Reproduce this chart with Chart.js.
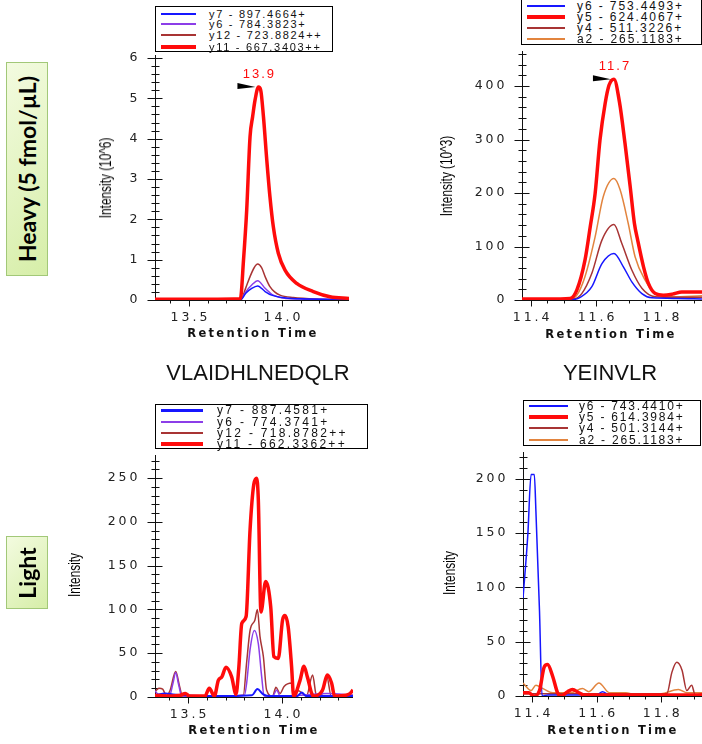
<!DOCTYPE html>
<html>
<head>
<meta charset="utf-8">
<script src="https://cdn.jsdelivr.net/npm/chart.js@4.4.0/dist/chart.umd.min.js"></script>
<style>
  body { margin: 0; background: #fff; }
  #wrap { position: relative; width: 702px; height: 744px; overflow: hidden; font-family: "Liberation Sans", Arial, sans-serif; color: #111; }
  #wrap canvas { position: absolute; left: 0; top: 0; }
  .tag { position: absolute; left: 6px; width: 42px; box-sizing: border-box; border: 1px solid #a2c878;
         background: linear-gradient(135deg, #f3fbe0 0%, #d6eea8 100%); }
  .tag span { position: absolute; left: 50%; top: 50%; transform: translate(-50%, -50%) rotate(-90deg);
              white-space: nowrap; font-family: Lato, "Liberation Sans", sans-serif; font-weight: bold; font-size: 23px; color: #000; }
  .peptide { position: absolute; transform: translate(-50%, -50%); font-size: 22px; white-space: nowrap; }
  .ytitle { position: absolute; transform: translate(-50%, -50%) rotate(-90deg) scaleX(0.74); font-size: 16px; white-space: nowrap; color: #000; }
  .xtitle { position: absolute; transform: translate(-50%, -50%); font-family: "DejaVu Sans", sans-serif; font-weight: bold;
            font-size: 11.5px; letter-spacing: 2.3px; white-space: nowrap; }
  .legend { position: absolute; border: 1px solid #000; background: #fff; box-sizing: border-box; }
  .legend .ln { position: absolute; }
  .legend .tx { position: absolute; white-space: nowrap; transform: translateY(-50%); line-height: 1; }
</style>
</head>
<body>
<div id="wrap">
  <canvas id="c0" width="702" height="744"></canvas>
  <canvas id="c1" width="702" height="744"></canvas>
  <canvas id="c2" width="702" height="744"></canvas>
  <canvas id="c3" width="702" height="744"></canvas>
</div>
<script>
/* VLAIDHLNEDQLR - heavy (10^6) */
const hvLabels = ["y7 - 897.4664+", "y6 - 784.3823+", "y12 - 723.8824++", "y11 - 667.3403++"];
const hvY7T  = [13.317, 13.60, 13.778, 13.805, 13.837, 13.869, 13.909, 13.944, 13.998, 14.10, 14.36];
const hvY7I  = [0, 0, 0.01, 0.17, 0.29, 0.35, 0.21, 0.12, 0.06, 0.03, 0.01];
const hvY6T  = [13.317, 13.60, 13.778, 13.805, 13.837, 13.869, 13.909, 13.930, 13.953, 14.02, 14.20, 14.36];
const hvY6I  = [0, 0, 0.01, 0.2, 0.37, 0.48, 0.29, 0.2, 0.12, 0.04, 0.02, 0.01];
const hvY12T = [13.317, 13.60, 13.778, 13.805, 13.828, 13.850, 13.869, 13.890, 13.909, 13.935, 13.960, 13.989, 14.06, 14.20, 14.36];
const hvY12I = [0, 0, 0.01, 0.3, 0.58, 0.8, 0.89, 0.8, 0.58, 0.33, 0.2, 0.12, 0.06, 0.02, 0.01];
const hvY11T = [13.317, 13.60, 13.776, 13.793, 13.810, 13.828, 13.842, 13.855, 13.873, 13.885, 13.900, 13.918, 13.935, 13.953, 13.980, 14.016, 14.079, 14.168, 14.258, 14.360];
const hvY11I = [0.02, 0.02, 0.03, 1.0, 2.23, 4.05, 4.55, 4.96, 5.28, 5.21, 4.55, 3.47, 2.56, 1.82, 1.16, 0.74, 0.41, 0.21, 0.08, 0.04];

/* YEINVLR - heavy (10^3) */
const hyLabels = ["y6 - 753.4493+", "y5 - 624.4067+", "y4 - 511.3226+", "a2 - 265.1183+"];
const hyY6T = [11.372, 11.45, 11.53, 11.551, 11.587, 11.618, 11.655, 11.684, 11.710, 11.741, 11.772, 11.85, 11.926];
const hyY6I = [1, 1, 1, 5, 25, 68, 87, 62, 34, 12, 4, 3, 2];
const hyY5T = [11.372, 11.45, 11.52, 11.541, 11.566, 11.582, 11.597, 11.612, 11.628, 11.640, 11.655, 11.672, 11.689, 11.705, 11.718, 11.728, 11.746, 11.761, 11.782, 11.807, 11.835, 11.864, 11.926];
const hyY5I = [2, 2, 3, 19, 75, 137, 199, 299, 368, 402, 413, 370, 293, 212, 143, 112, 62, 31, 12, 9, 11, 15, 15];
const hyY4T = [11.372, 11.45, 11.53, 11.556, 11.587, 11.618, 11.655, 11.679, 11.710, 11.741, 11.782, 11.85, 11.926];
const hyY4I = [1, 1, 2, 12, 50, 112, 141, 106, 56, 22, 6, 5, 5];
const hyA2T = [11.372, 11.45, 11.52, 11.541, 11.566, 11.597, 11.622, 11.655, 11.674, 11.699, 11.720, 11.751, 11.782, 11.833, 11.926];
const hyA2I = [1, 1, 2, 9, 44, 118, 193, 227, 206, 143, 81, 37, 12, 6, 8];

/* VLAIDHLNEDQLR - light */
const lvLabels = ["y7 - 887.4581+", "y6 - 774.3741+", "y12 - 718.8782++", "y11 - 662.3362++"];
const lvY7T  = [13.324, 13.380, 13.420, 13.600, 13.840, 13.869, 13.900, 13.940, 14.080, 14.105, 14.130, 14.378];
const lvY7I  = [2, 4, 3, 1, 2, 9, 3, 1, 1, 5, 1, 1];
const lvY6T  = [13.324, 13.340, 13.360, 13.400, 13.420, 13.434, 13.450, 13.468, 13.60, 13.800, 13.812, 13.830, 13.853, 13.874, 13.892, 13.905, 13.950, 13.972, 13.990, 14.100, 14.240, 14.378];
const lvY6I  = [7, 3, 1, 1, 16, 28, 14, 0, 1, 2, 16, 54, 76, 61, 23, 1, 1, 8, 1, 2, 4, 2];
const lvY12T = [13.324, 13.345, 13.365, 13.385, 13.405, 13.434, 13.455, 13.470, 13.60, 13.794, 13.812, 13.830, 13.856, 13.869, 13.883, 13.901, 13.918, 13.950, 13.968, 13.990, 14.011, 14.052, 14.065, 14.087, 14.110, 14.130, 14.163, 14.184, 14.210, 14.238, 14.262, 14.30, 14.378];
const lvY12I = [6, 10, 9, 1, 8, 29, 12, 1, 1, 2, 40, 76, 88, 100, 69, 46, 8, 1, 11, 4, 12, 16, 1, 7, 4, 1, 25, 1, 2, 24, 1, 2, 2];
const lvY11T = [13.324, 13.40, 13.46, 13.485, 13.51, 13.59, 13.613, 13.640, 13.661, 13.680, 13.702, 13.732, 13.755, 13.770, 13.786, 13.809, 13.830, 13.850, 13.865, 13.874, 13.888, 13.913, 13.940, 13.957, 13.980, 14.003, 14.016, 14.033, 14.051, 14.062, 14.096, 14.117, 14.135, 14.167, 14.216, 14.241, 14.264, 14.280, 14.340, 14.362, 14.378];
const lvY11I = [2, 1, 2, 4, 1, 1, 10, 1, 19, 23, 34, 23, 3, 33, 84, 92, 191, 243, 250, 225, 97, 132, 103, 46, 44, 88, 93, 80, 35, 1, 19, 35, 23, 1, 8, 25, 16, 1, 2, 4, 8];

/* YEINVLR - light */
const lyLabels = ["y6 - 743.4410+", "y5 - 614.3984+", "y4 - 501.3144+", "a2 - 265.1183+"];
const lyY6T = [11.372, 11.387, 11.397, 11.407, 11.412, 11.423, 11.431, 11.45, 11.60, 11.618, 11.64, 11.926];
const lyY6I = [90, 149, 204, 204, 170, 79, 0, 1, 1, 4, 1, 1];
const lyY5T = [11.372, 11.39, 11.405, 11.423, 11.438, 11.448, 11.464, 11.479, 11.49, 11.51, 11.525, 11.545, 11.56, 11.70, 11.926];
const lyY5I = [3, 3, 0, 5, 27, 29, 18, 3, 0, 4, 6, 3, 1, 1, 1];
const lyY4T = [11.372, 11.60, 11.817, 11.833, 11.848, 11.864, 11.879, 11.894, 11.905, 11.926];
const lyY4I = [2, 2, 2, 22, 31, 24, 5, 10, 1, 2];
const lyA2T = [11.372, 11.397, 11.412, 11.433, 11.464, 11.52, 11.556, 11.576, 11.607, 11.640, 11.690, 11.72, 11.80, 11.853, 11.88, 11.926];
const lyA2I = [12, 5, 10, 7, 3, 3, 7, 4, 12, 3, 3, 1, 2, 6, 3, 3];

const BLUE = "#1616ff", PURPLE = "#8c3ee8", BROWN = "#a83434", RED = "#ff0b0b", ORANGE = "#e2843e";

function s(label, t, v, color, width) {
	return { label: label, t: t, v: v, color: color, width: width };
}

// 패널 설정 (위치는 페이지 좌표)
const panels = [
	{
		area: { l: 155, r: 349, t: 58, b: 300 },
		x: { min: 13.317, max: 14.36, major: 0.5, minor: 0.1 },
		y: { max: 6, major: 1, minor: 0.2 },
		series: [
			s(hvLabels[0], hvY7T, hvY7I, BLUE, 1.5),
			s(hvLabels[1], hvY6T, hvY6I, PURPLE, 1.5),
			s(hvLabels[2], hvY12T, hvY12I, BROWN, 1.5),
			s(hvLabels[3], hvY11T, hvY11I, RED, 3.5)
		],
		peak: 3,
		legend: { l: 155, t: 6, w: 178, h: 46, rows: [6.7, 17.3, 28.3, 39.7], ln: [5, 40], tx: 53, fs: 11, ls: 1.7 },
		yTitle: { text: "Intensity (10^6)", x: 106, y: 178 },
		xTitle: { x: 253, y: 333 }
	},
	{
		area: { l: 522, r: 702, t: 54, b: 300 },
		x: { min: 11.372, max: 11.926, major: 0.2, minor: 0.05 },
		y: { max: 460, major: 100, minor: 20 },
		series: [
			s(hyLabels[0], hyY6T, hyY6I, BLUE, 1.5),
			s(hyLabels[1], hyY5T, hyY5I, RED, 3.5),
			s(hyLabels[2], hyY4T, hyY4I, BROWN, 1.5),
			s(hyLabels[3], hyA2T, hyA2I, ORANGE, 1.5)
		],
		peak: 1,
		legend: { l: 521, t: -2, w: 181, h: 47, rows: [7, 17.7, 29.3, 40.3], ln: [5, 43], tx: 55, fs: 12, ls: 1.9 },
		yTitle: { text: "Intensity (10^3)", x: 447, y: 176 },
		xTitle: { x: 611, y: 334 }
	},
	{
		area: { l: 155, r: 353, t: 458, b: 697 },
		x: { min: 13.324, max: 14.378, major: 0.5, minor: 0.1 },
		y: { max: 273, major: 50, minor: 10 },
		series: [
			s(lvLabels[0], lvY7T, lvY7I, BLUE, 2),
			s(lvLabels[1], lvY6T, lvY6I, PURPLE, 1.5),
			s(lvLabels[2], lvY12T, lvY12I, BROWN, 1.5),
			s(lvLabels[3], lvY11T, lvY11I, RED, 3.5)
		],
		peak: null,
		legend: { l: 155, t: 404, w: 213, h: 45, rows: [5.3, 16.7, 27.7, 39.3], ln: [5, 47], tx: 61, fs: 12, ls: 2.3 },
		yTitle: { text: "Intensity", x: 75, y: 575 },
		xTitle: { x: 254, y: 730 }
	},
	{
		area: { l: 523, r: 702, t: 455, b: 696 },
		x: { min: 11.372, max: 11.926, major: 0.2, minor: 0.05 },
		y: { max: 222, major: 50, minor: 10 },
		series: [
			s(lyLabels[0], lyY6T, lyY6I, BLUE, 1.5),
			s(lyLabels[1], lyY5T, lyY5I, RED, 3.5),
			s(lyLabels[2], lyY4T, lyY4I, BROWN, 1.5),
			s(lyLabels[3], lyA2T, lyA2I, ORANGE, 1.5)
		],
		peak: null,
		legend: { l: 523, t: 400, w: 178, h: 46, rows: [5, 16, 27.3, 38.7], ln: [5, 44], tx: 55, fs: 12, ls: 1.8 },
		yTitle: { text: "Intensity", x: 450, y: 573 },
		xTitle: { x: 613, y: 730 }
	}
];

function isMajor(v, step) {
	return Math.abs(v / step - Math.round(v / step)) < 1e-6;
}

// 축, 눈금(양쪽으로 걸치는 눈금), 눈금 라벨
const srmAxes = {
	id: "srmAxes",
	beforeDatasetsDraw(chart, args, opts) {
		const ctx = chart.ctx, a = chart.chartArea;
		const xs = chart.scales.x, ys = chart.scales.y;
		const ax = Math.round(a.left) + 0.5, ay = Math.round(a.bottom) + 0.5;

		ctx.save();
		ctx.strokeStyle = "#111";
		ctx.lineWidth = 1;
		ctx.beginPath();
		ctx.moveTo(ax, a.top - 3);
		ctx.lineTo(ax, ay);
		ctx.lineTo(a.right, ay);

		const yn = Math.floor(opts.y.max / opts.y.minor + 1e-6);
		for (let k = 0; k <= yn; k++) {
			const v = k * opts.y.minor;
			const py = Math.round(ys.getPixelForValue(v)) + 0.5;
			const big = isMajor(v, opts.y.major);
			ctx.moveTo(ax - (big ? 8 : 4), py);
			ctx.lineTo(ax + (big ? 7 : 4), py);
		}
		const x0 = Math.ceil(opts.x.min / opts.x.minor - 1e-6);
		const x1 = Math.floor(opts.x.max / opts.x.minor + 1e-6);
		for (let k = x0; k <= x1; k++) {
			const v = k * opts.x.minor;
			const px = Math.round(xs.getPixelForValue(v)) + 0.5;
			ctx.moveTo(px, ay);
			ctx.lineTo(px, ay + (isMajor(v, opts.x.major) ? 6 : 3));
		}
		ctx.stroke();

		ctx.fillStyle = "#222";
		ctx.font = '12.5px "DejaVu Sans"';
		ctx.letterSpacing = "3px";
		ctx.textBaseline = "middle";
		ctx.textAlign = "right";
		for (let k = 0; k * opts.y.major <= opts.y.max + 1e-6; k++) {
			const v = k * opts.y.major;
			ctx.fillText(String(Math.round(v)), ax - 15, ys.getPixelForValue(v));
		}
		ctx.textAlign = "center";
		for (let k = Math.ceil(opts.x.min / opts.x.major); k * opts.x.major <= opts.x.max; k++) {
			const v = k * opts.x.major;
			ctx.fillText(v.toFixed(1), xs.getPixelForValue(v) + 1.5, ay + 17);
		}
		ctx.restore();
	}
};

// 최고점 표시 (화살표 + 머무름 시간)
const peakMark = {
	id: "peakMark",
	afterDatasetsDraw(chart, args, opts) {
		if (opts.index == null) return;
		const ds = chart.data.datasets[opts.index];
		let best = ds.data[0];
		ds.data.forEach(function(p) { if (p.y > best.y) best = p; });
		const px = chart.scales.x.getPixelForValue(best.x);
		const py = chart.scales.y.getPixelForValue(best.y);
		const ctx = chart.ctx;
		ctx.save();
		ctx.fillStyle = "#000";
		ctx.beginPath();
		ctx.moveTo(px - 3, py);
		ctx.lineTo(px - 21, py - 4);
		ctx.lineTo(px - 21, py + 2);
		ctx.closePath();
		ctx.fill();
		ctx.fillStyle = ds.borderColor;
		ctx.font = '13px "Liberation Sans"';
		ctx.letterSpacing = "2px";
		ctx.textAlign = "center";
		ctx.textBaseline = "alphabetic";
		ctx.fillText(best.x.toFixed(1), px + 1, py - 9);
		ctx.restore();
	}
};

const wrap = document.getElementById("wrap");

function addDiv(cls, css, text) {
	const d = document.createElement("div");
	d.className = cls;
	Object.assign(d.style, css);
	if (text != null) d.textContent = text;
	wrap.appendChild(d);
	return d;
}

panels.forEach(function(p, i) {
	const datasets = p.series.map(function(sr, j) {
		return {
			label: sr.label,
			data: sr.t.map(function(t, k) { return { x: t, y: sr.v[k] }; }),
			borderColor: sr.color,
			borderWidth: sr.width,
			pointRadius: 0,
			fill: false,
			cubicInterpolationMode: "monotone",
			order: sr.color === RED ? 0 : j + 1
		};
	});

	new Chart(document.getElementById("c" + i), {
		type: "line",
		data: { datasets: datasets },
		options: {
			responsive: false,
			animation: false,
			events: [],
			layout: { padding: { left: p.area.l, right: 702 - p.area.r, top: p.area.t, bottom: 744 - p.area.b } },
			plugins: {
				legend: { display: false },
				tooltip: { enabled: false },
				srmAxes: { x: p.x, y: p.y },
				peakMark: { index: p.peak }
			},
			scales: {
				x: { type: "linear", display: false, min: p.x.min, max: p.x.max },
				y: { type: "linear", display: false, min: 0, max: p.y.max }
			}
		},
		plugins: [srmAxes, peakMark]
	});

	// 범례
	const lg = p.legend;
	const box = addDiv("legend", { left: lg.l + "px", top: lg.t + "px", width: lg.w + "px", height: lg.h + "px" });
	p.series.forEach(function(sr, j) {
		const lw = sr.width >= 3 ? 4 : (sr.width > 1.5 ? 3 : 2);
		const ln = document.createElement("div");
		ln.className = "ln";
		Object.assign(ln.style, {
			left: lg.ln[0] + "px", width: (lg.ln[1] - lg.ln[0]) + "px",
			top: (lg.rows[j] - lw / 2) + "px", height: lw + "px", background: sr.color
		});
		box.appendChild(ln);
		const tx = document.createElement("div");
		tx.className = "tx";
		Object.assign(tx.style, { left: lg.tx + "px", top: lg.rows[j] + "px", fontSize: lg.fs + "px", letterSpacing: lg.ls + "px" });
		tx.textContent = sr.label;
		box.appendChild(tx);
	});

	addDiv("ytitle", { left: p.yTitle.x + "px", top: p.yTitle.y + "px" }, p.yTitle.text);
	addDiv("xtitle", { left: p.xTitle.x + "px", top: p.xTitle.y + "px" }, "Retention Time");
});

addDiv("peptide", { left: "258px", top: "373px" }, "VLAIDHLNEDQLR");
addDiv("peptide", { left: "610px", top: "373px" }, "YEINVLR");

const heavy = addDiv("tag", { top: "62px", height: "214px" });
heavy.innerHTML = "<span>Heavy (5 fmol/µL)</span>";
const light = addDiv("tag", { top: "536px", height: "73px" });
light.innerHTML = "<span>Light</span>";
</script>
</body>
</html>
